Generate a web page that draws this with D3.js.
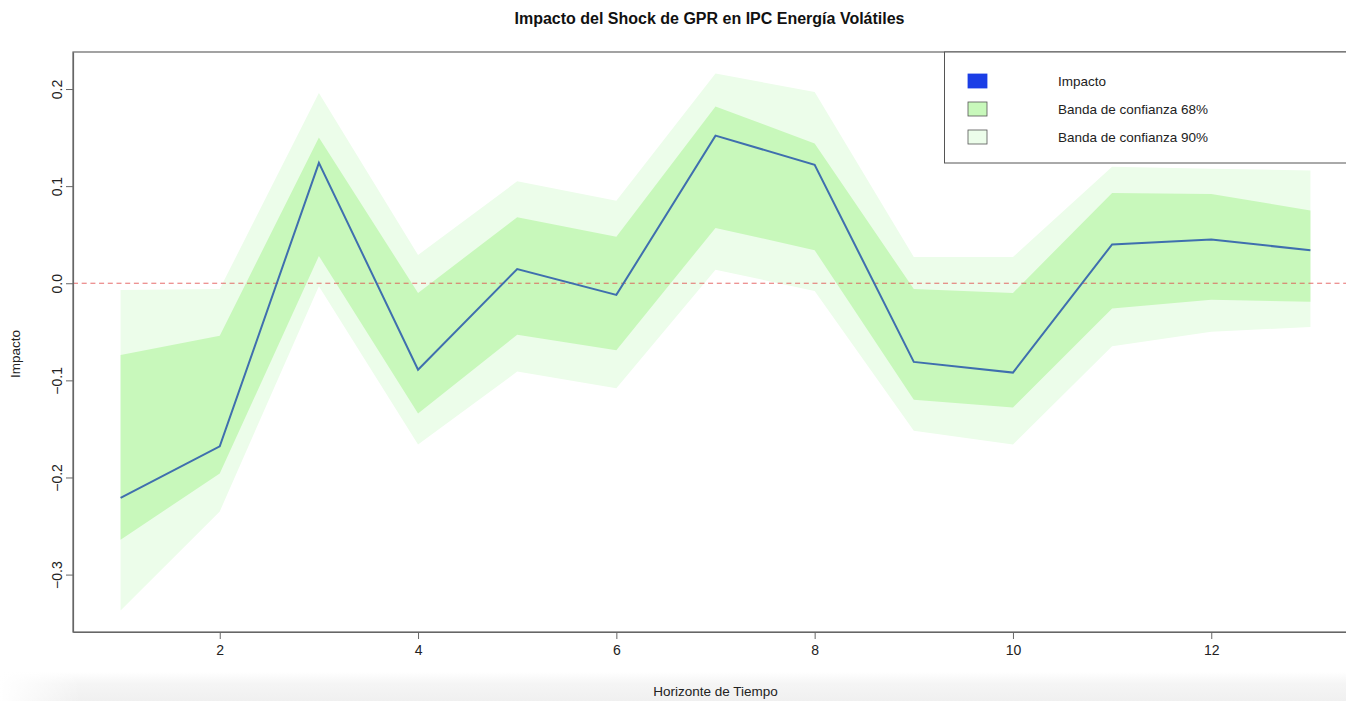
<!DOCTYPE html>
<html>
<head>
<meta charset="utf-8">
<script src="https://cdn.jsdelivr.net/npm/d3@7"></script>
<style>
  html, body { margin: 0; padding: 0; background: #fff; overflow: hidden; }
  svg { display: block; font-family: "Liberation Sans", Arial, Helvetica, sans-serif; }
</style>
</head>
<body>
<svg id="chart" width="1346" height="701"></svg>
<script>
// Horizonte de respuesta (periodos)
const horizon = [1, 2, 3, 4, 5, 6, 7, 8, 9, 10, 11, 12, 13];
// Respuesta puntual del IPC Energía Volátiles al shock de GPR
const impacto = [-0.221, -0.168, 0.124, -0.089, 0.0146, -0.012, 0.152, 0.122, -0.081, -0.092, 0.040, 0.045, 0.034];
// Banda de confianza 68%
const lower68 = [-0.264, -0.196, 0.028, -0.134, -0.053, -0.069, 0.057, 0.034, -0.120, -0.128, -0.026, -0.017, -0.019];
const upper68 = [-0.074, -0.054, 0.150, -0.010, 0.068, 0.048, 0.182, 0.144, -0.006, -0.010, 0.093, 0.092, 0.075];
// Banda de confianza 90%
const lower90 = [-0.337, -0.235, -0.003, -0.166, -0.091, -0.108, 0.014, -0.008, -0.152, -0.166, -0.065, -0.050, -0.045];
const upper90 = [-0.007, -0.006, 0.196, 0.029, 0.105, 0.085, 0.216, 0.197, 0.027, 0.027, 0.120, 0.118, 0.116];
// Marcas de los ejes
const xTicks = [2, 4, 6, 8, 10, 12];
const yTicks = [-0.3, -0.2, -0.1, 0.0, 0.1, 0.2];
// Leyenda
const legendLabels = ["Impacto", "Banda de confianza 68%", "Banda de confianza 90%"];

const svg = d3.select("#chart");
const W = 1346, H = 701;

// Plot region (frame); right edge lies just past the visible canvas
const plot = { left: 73, right: 1358, top: 52, bottom: 632 };

// Axis limits padded 4% beyond the data range
const xPad = (d3.max(horizon) - d3.min(horizon)) * 0.04;
const yMin = d3.min(lower90), yMax = d3.max(upper90);
const yPad = (yMax - yMin) * 0.04;

const x = d3.scaleLinear()
  .domain([d3.min(horizon) - xPad, d3.max(horizon) + xPad])
  .range([plot.left, plot.right]);
const y = d3.scaleLinear()
  .domain([yMin - yPad, yMax + yPad])
  .range([plot.bottom, plot.top]);

// Soft grey strip along the bottom edge
const defs = svg.append("defs");
const grad = defs.append("linearGradient").attr("id", "bottomFade")
  .attr("x1", 0).attr("y1", 0).attr("x2", 0).attr("y2", 1);
grad.append("stop").attr("offset", "0%").attr("stop-color", "#ffffff");
grad.append("stop").attr("offset", "40%").attr("stop-color", "#f5f5f5");
grad.append("stop").attr("offset", "100%").attr("stop-color", "#f0f0f0");
const gradL = defs.append("linearGradient").attr("id", "leftFade")
  .attr("x1", 0).attr("y1", 0).attr("x2", 1).attr("y2", 0);
gradL.append("stop").attr("offset", "0%").attr("stop-color", "#ffffff").attr("stop-opacity", 1);
gradL.append("stop").attr("offset", "6%").attr("stop-color", "#ffffff").attr("stop-opacity", 0);
svg.append("rect").attr("x", 0).attr("y", 672).attr("width", W).attr("height", H - 672)
  .attr("fill", "url(#bottomFade)");
svg.append("rect").attr("x", 0).attr("y", 672).attr("width", W).attr("height", H - 672)
  .attr("fill", "url(#leftFade)");

const rows = horizon.map((h, i) => ({
  h, v: impacto[i], lo68: lower68[i], hi68: upper68[i], lo90: lower90[i], hi90: upper90[i]
}));

// Confidence bands
const area90 = d3.area().x(d => x(d.h)).y0(d => y(d.lo90)).y1(d => y(d.hi90));
const area68 = d3.area().x(d => x(d.h)).y0(d => y(d.lo68)).y1(d => y(d.hi68));
svg.append("path").datum(rows).attr("d", area90).attr("fill", "#ecfdea");
svg.append("path").datum(rows).attr("d", area68).attr("fill", "#c8f8bb");

// Zero reference line
svg.append("line")
  .attr("x1", plot.left).attr("x2", plot.right)
  .attr("y1", y(0)).attr("y2", y(0))
  .attr("stroke", "#e04848").attr("stroke-opacity", 0.8).attr("stroke-width", 1)
  .attr("stroke-dasharray", "5,3.7");

// Impulse response line
const line = d3.line().x(d => x(d.h)).y(d => y(d.v));
svg.append("path").datum(rows).attr("d", line)
  .attr("fill", "none").attr("stroke", "#3f6fae").attr("stroke-width", 2)
  .attr("stroke-linejoin", "miter");

// Frame
svg.append("rect")
  .attr("x", plot.left).attr("y", plot.top)
  .attr("width", plot.right - plot.left).attr("height", plot.bottom - plot.top)
  .attr("fill", "none").attr("stroke", "#666").attr("stroke-width", 1.2);

// X axis
const xAxis = svg.append("g")
  .attr("transform", `translate(0,${plot.bottom})`)
  .call(d3.axisBottom(x).tickValues(xTicks).tickFormat(d3.format("d")).tickSize(7).tickSizeOuter(0).tickPadding(6));
xAxis.select(".domain").attr("stroke", "#666").attr("stroke-width", 1.2);
xAxis.selectAll(".tick line").attr("stroke", "#666");
xAxis.selectAll(".tick text").attr("font-size", 14).attr("fill", "#222")
  .attr("font-family", "Liberation Sans, Arial, sans-serif");

// Y axis with vertical labels
const yAxis = svg.append("g")
  .attr("transform", `translate(${plot.left},0)`)
  .call(d3.axisLeft(y).tickValues(yTicks).tickFormat(d3.format(".1f")).tickSize(7).tickSizeOuter(0));
yAxis.select(".domain").attr("stroke", "#666").attr("stroke-width", 1.2);
yAxis.selectAll(".tick line").attr("stroke", "#666");
yAxis.selectAll(".tick text")
  .attr("font-size", 14).attr("fill", "#222")
  .attr("font-family", "Liberation Sans, Arial, sans-serif")
  .attr("x", null).attr("dy", null)
  .attr("text-anchor", "middle")
  .attr("transform", "translate(-11,0) rotate(-90)");

// Titles
svg.append("text")
  .attr("x", (plot.left + plot.right) / 2 - 6).attr("y", 24)
  .attr("text-anchor", "middle").attr("font-size", 16).attr("font-weight", "bold")
  .attr("fill", "#111")
  .text("Impacto del Shock de GPR en IPC Energía Volátiles");
svg.append("text")
  .attr("x", (plot.left + plot.right) / 2 - 0).attr("y", 696)
  .attr("text-anchor", "middle").attr("font-size", 13.5).attr("fill", "#222")
  .text("Horizonte de Tiempo");
svg.append("text")
  .attr("transform", `translate(20,${(plot.top + plot.bottom) / 2 + 12}) rotate(-90)`)
  .attr("text-anchor", "middle").attr("font-size", 13.5).attr("fill", "#222")
  .text("Impacto");

// Legend
const legend = svg.append("g");
legend.append("rect")
  .attr("x", 944.5).attr("y", plot.top).attr("width", plot.right - 944.5).attr("height", 111)
  .attr("fill", "#fff").attr("stroke", "#555").attr("stroke-width", 1);
const legendFill = ["#1b3ee6", "#c8f8bb", "#ecfdea"];
const legendStroke = ["#1b3ee6", "#555", "#555"];
const legendY = [81, 109, 137];
legendLabels.forEach((lab, i) => {
  legend.append("rect")
    .attr("x", 968).attr("y", legendY[i] - 7).attr("width", 19).attr("height", 14)
    .attr("fill", legendFill[i]).attr("stroke", legendStroke[i]).attr("stroke-width", 0.8);
  legend.append("text")
    .attr("x", 1058).attr("y", legendY[i] + 5)
    .attr("font-size", 13.5).attr("fill", "#222")
    .text(lab);
});
</script>
</body>
</html>
